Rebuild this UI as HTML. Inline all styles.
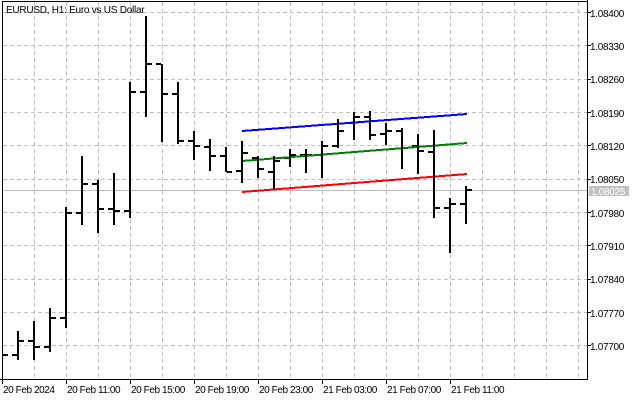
<!DOCTYPE html>
<html>
<head>
<meta charset="utf-8">
<style>
html,body{margin:0;padding:0;background:#fff;}
body{width:640px;height:400px;overflow:hidden;}
svg{display:block;}
text{font-family:"Liberation Sans",sans-serif;font-size:10px;fill:#000;}
</style>
</head>
<body>
<svg width="640" height="400" viewBox="0 0 640 400" xmlns="http://www.w3.org/2000/svg">
<rect x="0" y="0" width="640" height="400" fill="#fff"/>
<!-- grid -->
<g stroke="#c0c0c0" stroke-width="1" stroke-dasharray="4,3" shape-rendering="crispEdges">
<line x1="3" y1="12.5" x2="587" y2="12.5"/>
<line x1="3" y1="45.5" x2="587" y2="45.5"/>
<line x1="3" y1="79.5" x2="587" y2="79.5"/>
<line x1="3" y1="112.5" x2="587" y2="112.5"/>
<line x1="3" y1="145.5" x2="587" y2="145.5"/>
<line x1="3" y1="179.5" x2="587" y2="179.5"/>
<line x1="3" y1="212.5" x2="587" y2="212.5"/>
<line x1="3" y1="245.5" x2="587" y2="245.5"/>
<line x1="3" y1="279.5" x2="587" y2="279.5"/>
<line x1="3" y1="312.5" x2="587" y2="312.5"/>
<line x1="3" y1="345.5" x2="587" y2="345.5"/>
<line x1="34.5" y1="2" x2="34.5" y2="379"/>
<line x1="66.5" y1="2" x2="66.5" y2="379"/>
<line x1="98.5" y1="2" x2="98.5" y2="379"/>
<line x1="130.5" y1="2" x2="130.5" y2="379"/>
<line x1="162.5" y1="2" x2="162.5" y2="379"/>
<line x1="194.5" y1="2" x2="194.5" y2="379"/>
<line x1="226.5" y1="2" x2="226.5" y2="379"/>
<line x1="258.5" y1="2" x2="258.5" y2="379"/>
<line x1="290.5" y1="2" x2="290.5" y2="379"/>
<line x1="322.5" y1="2" x2="322.5" y2="379"/>
<line x1="354.5" y1="2" x2="354.5" y2="379"/>
<line x1="386.5" y1="2" x2="386.5" y2="379"/>
<line x1="418.5" y1="2" x2="418.5" y2="379"/>
<line x1="450.5" y1="2" x2="450.5" y2="379"/>
<line x1="482.5" y1="2" x2="482.5" y2="379"/>
<line x1="514.5" y1="2" x2="514.5" y2="379"/>
<line x1="546.5" y1="2" x2="546.5" y2="379"/>
<line x1="578.5" y1="2" x2="578.5" y2="379"/>
</g>
<!-- current price line -->
<line x1="3" y1="190.5" x2="587" y2="190.5" stroke="#c0c0c0" stroke-width="1" shape-rendering="crispEdges"/>

<!-- bars: ticks -->
<g fill="#000" shape-rendering="crispEdges">
<rect x="3" y="354" width="5" height="2"/>
<rect x="12" y="354" width="5" height="2"/><rect x="19" y="340" width="5" height="2"/>
<rect x="28" y="340" width="5" height="2"/><rect x="35" y="346" width="5" height="2"/>
<rect x="44" y="346" width="5" height="2"/><rect x="51" y="317" width="5" height="2"/>
<rect x="60" y="317" width="5" height="2"/><rect x="67" y="212" width="5" height="2"/>
<rect x="76" y="212" width="5" height="2"/><rect x="83" y="183" width="5" height="2"/>
<rect x="92" y="183" width="5" height="2"/><rect x="99" y="208" width="5" height="2"/>
<rect x="108" y="208" width="5" height="2"/><rect x="115" y="210" width="5" height="2"/>
<rect x="124" y="210" width="5" height="2"/><rect x="131" y="91" width="5" height="2"/>
<rect x="140" y="91" width="5" height="2"/><rect x="147" y="63" width="5" height="2"/>
<rect x="156" y="63" width="5" height="2"/><rect x="163" y="93" width="5" height="2"/>
<rect x="172" y="93" width="5" height="2"/><rect x="179" y="140" width="5" height="2"/>
<rect x="188" y="140" width="5" height="2"/><rect x="195" y="145" width="5" height="2"/>
<rect x="204" y="146" width="5" height="2"/><rect x="211" y="155" width="5" height="2"/>
<rect x="220" y="155" width="5" height="2"/><rect x="227" y="171" width="5" height="2"/>
<rect x="236" y="170" width="5" height="2"/><rect x="243" y="152" width="5" height="2"/>
<rect x="252" y="157" width="5" height="2"/><rect x="259" y="168" width="5" height="2"/>
<rect x="268" y="171" width="5" height="2"/><rect x="275" y="160" width="5" height="2"/>
<rect x="284" y="157" width="5" height="2"/><rect x="291" y="154" width="5" height="2"/>
<rect x="300" y="154" width="5" height="2"/><rect x="307" y="154" width="5" height="2"/>
<rect x="316" y="154" width="5" height="2"/><rect x="323" y="145" width="5" height="2"/>
<rect x="332" y="145" width="5" height="2"/><rect x="339" y="130" width="5" height="2"/>
<rect x="348" y="122" width="5" height="2"/><rect x="355" y="116" width="5" height="2"/>
<rect x="364" y="116" width="5" height="2"/><rect x="371" y="134" width="5" height="2"/>
<rect x="380" y="133" width="5" height="2"/><rect x="387" y="130" width="5" height="2"/>
<rect x="396" y="130" width="5" height="2"/><rect x="403" y="147" width="5" height="2"/>
<rect x="412" y="145" width="5" height="2"/><rect x="419" y="150" width="5" height="2"/>
<rect x="428" y="151" width="5" height="2"/><rect x="435" y="207" width="5" height="2"/>
<rect x="444" y="207" width="5" height="2"/><rect x="451" y="203" width="5" height="2"/>
<rect x="460" y="203" width="5" height="2"/><rect x="467" y="189" width="5" height="2"/>
</g>

<!-- channel lines -->
<g fill="none" stroke-width="2" shape-rendering="crispEdges">
<line x1="242" y1="131" x2="467" y2="114" stroke="#0000ff"/>
<line x1="242" y1="161" x2="467" y2="143" stroke="#008000"/>
<line x1="242" y1="192" x2="467" y2="174" stroke="#ff0000"/>
</g>

<!-- bars: verticals -->
<g fill="#000" shape-rendering="crispEdges">
<rect x="17" y="331" width="2" height="29"/>
<rect x="33" y="321" width="2" height="39"/>
<rect x="49" y="308" width="2" height="44"/>
<rect x="65" y="207" width="2" height="121"/>
<rect x="81" y="156" width="2" height="69"/>
<rect x="97" y="180" width="2" height="53"/>
<rect x="113" y="173" width="2" height="52"/>
<rect x="129" y="82" width="2" height="136"/>
<rect x="145" y="16" width="2" height="101"/>
<rect x="161" y="64" width="2" height="78"/>
<rect x="177" y="82" width="2" height="62"/>
<rect x="193" y="131" width="2" height="29"/>
<rect x="209" y="139" width="2" height="32"/>
<rect x="225" y="147" width="2" height="25"/>
<rect x="241" y="141" width="2" height="42"/>
<rect x="257" y="156" width="2" height="22"/>
<rect x="273" y="156" width="2" height="33"/>
<rect x="289" y="149" width="2" height="18"/>
<rect x="305" y="149" width="2" height="24"/>
<rect x="321" y="141" width="2" height="37"/>
<rect x="337" y="119" width="2" height="29"/>
<rect x="353" y="112" width="2" height="28"/>
<rect x="369" y="111" width="2" height="29"/>
<rect x="385" y="123" width="2" height="22"/>
<rect x="401" y="128" width="2" height="41"/>
<rect x="417" y="134" width="2" height="40"/>
<rect x="433" y="130" width="2" height="88"/>
<rect x="449" y="198" width="2" height="55"/>
<rect x="465" y="186" width="2" height="38"/>
</g>

<!-- frame -->
<g stroke="#000" stroke-width="1" shape-rendering="crispEdges">
<line x1="2.5" y1="1" x2="2.5" y2="380"/>
<line x1="2" y1="1.5" x2="588" y2="1.5"/>
<line x1="587.5" y1="0" x2="587.5" y2="380"/>
<line x1="0" y1="379.5" x2="588" y2="379.5"/>
<!-- y ticks -->
<line x1="587" y1="12.5" x2="591" y2="12.5"/>
<line x1="587" y1="45.5" x2="591" y2="45.5"/>
<line x1="587" y1="79.5" x2="591" y2="79.5"/>
<line x1="587" y1="112.5" x2="591" y2="112.5"/>
<line x1="587" y1="145.5" x2="591" y2="145.5"/>
<line x1="587" y1="179.5" x2="591" y2="179.5"/>
<line x1="587" y1="212.5" x2="591" y2="212.5"/>
<line x1="587" y1="245.5" x2="591" y2="245.5"/>
<line x1="587" y1="279.5" x2="591" y2="279.5"/>
<line x1="587" y1="312.5" x2="591" y2="312.5"/>
<line x1="587" y1="345.5" x2="591" y2="345.5"/>
<!-- x ticks -->
<line x1="2.5" y1="379" x2="2.5" y2="384"/>
<line x1="66.5" y1="379" x2="66.5" y2="384"/>
<line x1="130.5" y1="379" x2="130.5" y2="384"/>
<line x1="194.5" y1="379" x2="194.5" y2="384"/>
<line x1="258.5" y1="379" x2="258.5" y2="384"/>
<line x1="322.5" y1="379" x2="322.5" y2="384"/>
<line x1="386.5" y1="379" x2="386.5" y2="384"/>
<line x1="450.5" y1="379" x2="450.5" y2="384"/>
</g>

<!-- title -->
<text x="6" y="13" style="letter-spacing:-0.25px">EURUSD, H1:  Euro vs US Dollar</text>

<!-- y labels -->
<g style="letter-spacing:-0.3px">
<text x="590" y="17">1.08400</text>
<text x="590" y="50">1.08330</text>
<text x="590" y="83">1.08260</text>
<text x="590" y="117">1.08190</text>
<text x="590" y="150">1.08120</text>
<text x="590" y="183">1.08050</text>
<text x="590" y="217">1.07980</text>
<text x="590" y="250">1.07910</text>
<text x="590" y="283">1.07840</text>
<text x="590" y="317">1.07770</text>
<text x="590" y="350">1.07700</text>
</g>
<rect x="589" y="186" width="40" height="10" fill="#c0c0c0"/>
<text x="591" y="195" style="letter-spacing:-0.3px;fill:#fff">1.08025</text>

<!-- x labels -->
<g style="letter-spacing:-0.42px">
<text x="3" y="393">20 Feb 2024</text>
<text x="67" y="393">20 Feb 11:00</text>
<text x="131" y="393">20 Feb 15:00</text>
<text x="195" y="393">20 Feb 19:00</text>
<text x="259" y="393">20 Feb 23:00</text>
<text x="323" y="393">21 Feb 03:00</text>
<text x="387" y="393">21 Feb 07:00</text>
<text x="451" y="393">21 Feb 11:00</text>
</g>
</svg>
</body>
</html>
